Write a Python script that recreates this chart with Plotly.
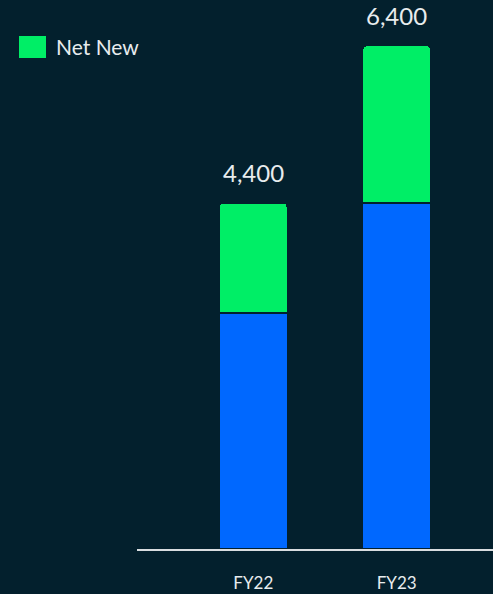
import plotly.graph_objects as go

# Fiscal years and stacked components
years = ["FY22", "FY23"]
existing = [3000, 4400]
net_new = [1400, 2000]
totals = [e + n for e, n in zip(existing, net_new)]
total_labels = [f"{t:,}" for t in totals]

BG = "#03202d"
BLUE = "#0068ff"
GREEN = "#00ee66"
TEXT = "#e8ecee"
FONT = "Lato, sans-serif"

W, H = 493, 594
ML, MB = 137, 45
plot_w = W - ML
plot_h = H - MB

fig = go.Figure()
fig.add_trace(go.Bar(
    x=years, y=existing, name="Existing", showlegend=False,
    marker=dict(color=BLUE, line=dict(color=BG, width=1.5)),
    width=0.474, hoverinfo="skip",
))
fig.add_trace(go.Bar(
    x=years, y=net_new, name="Net New", showlegend=False,
    marker=dict(color=GREEN, line=dict(color=BG, width=1.5)),
    width=0.474,
))

# Total labels above each stack
for yr, tot, lab in zip(years, totals, total_labels):
    fig.add_annotation(
        x=yr, y=tot, text=lab, showarrow=False,
        yanchor="bottom", yshift=14,
        font=dict(family=FONT, size=24, color=TEXT),
    )

# Legend key for the net-new series (positioned in paper units)
fig.add_shape(
    type="rect", xref="paper", yref="paper",
    x0=(19 - ML) / plot_w, x1=(46 - ML) / plot_w,
    y0=(plot_h - 58) / plot_h, y1=(plot_h - 36) / plot_h,
    line=dict(width=0), fillcolor=GREEN,
)
fig.add_annotation(
    xref="paper", yref="paper",
    x=(54 - ML) / plot_w, y=(plot_h - 47) / plot_h,
    text="Net New", showarrow=False,
    xanchor="left", yanchor="middle",
    font=dict(family=FONT, size=21, color=TEXT),
)

fig.update_layout(
    width=W, height=H,
    margin=dict(l=ML, r=0, t=0, b=MB),
    paper_bgcolor=BG, plot_bgcolor=BG,
    barmode="stack", barcornerradius=4,
    showlegend=False,
    xaxis=dict(
        range=[-0.811, 1.672], showgrid=False, zeroline=False,
        showline=True, linecolor="#d9dde0", linewidth=2,
        ticks="", ticklabelstandoff=18, automargin=False,
        tickfont=dict(family=FONT, size=17, color=TEXT),
    ),
    yaxis=dict(
        range=[0, 6980], visible=False, showgrid=False, zeroline=False,
        automargin=False,
    ),
)

fig.write_html("out.html")
